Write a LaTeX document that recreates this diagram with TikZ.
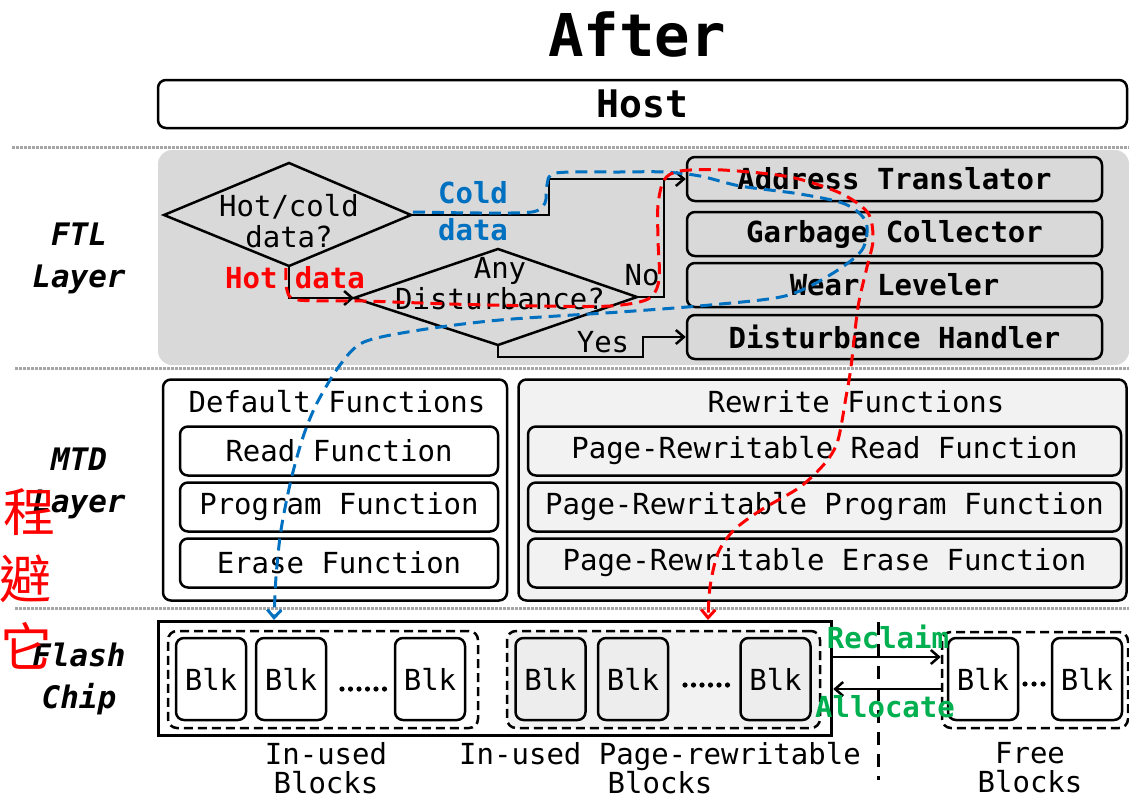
\documentclass[tikz,border=0pt]{standalone}
\usepackage{fontspec}
\setmainfont{DejaVu Sans}
\setmonofont{DejaVu Sans Mono}
\newfontfamily\cjkfont{Noto Sans CJK TC}
\usetikzlibrary{arrows.meta}

\definecolor{ftlgrey}{HTML}{D9D9D9}
\definecolor{lightgrey}{HTML}{F2F2F2}
\definecolor{blkgrey}{HTML}{EDEDED}
\definecolor{sepgrey}{HTML}{A6A6A6}
\definecolor{coldblue}{HTML}{0070C0}
\definecolor{hotred}{HTML}{FF0000}
\definecolor{allocgreen}{HTML}{00B050}

\newcommand\txtsize{\fontsize{29}{31}\selectfont}

\begin{document}
\begin{tikzpicture}[x=1pt,y=-1pt,
    box/.style={draw, line width=2.5pt, rounded corners=8pt, inner sep=0pt, font=\ttfamily\txtsize},
    ftlbox/.style={box, minimum width=415pt, minimum height=44pt, font=\ttfamily\bfseries\txtsize},
    fnbox/.style={box, minimum height=49pt},
    blk/.style={box, minimum width=70pt, minimum height=82pt},
    grp/.style={draw, line width=2.5pt, dash pattern=on 9pt off 5pt, rounded corners=9pt, inner sep=0pt},
    txt/.style={font=\ttfamily\txtsize, inner sep=0pt},
    boldtxt/.style={font=\ttfamily\bfseries\fontsize{29}{37}\selectfont, inner sep=0pt, align=center},
    layer/.style={font=\ttfamily\bfseries\itshape\fontsize{31}{42}\selectfont, align=center, inner sep=0pt},
    cjk/.style={font=\cjkfont\fontsize{52}{52}\selectfont, text=hotred, inner sep=0pt},
    sep/.style={draw=sepgrey, line width=3pt, dash pattern=on 3pt off 1pt},
    dia/.style={line width=2.5pt, line join=miter},
    flow/.style={line width=2.5pt, -{Straight Barb[length=8pt,width=14pt]}},
    coldpath/.style={draw=coldblue, line width=3pt, dash pattern=on 12pt off 7pt, -{Straight Barb[length=8pt,width=14pt]}},
    hotpath/.style={draw=hotred, line width=3pt, dash pattern=on 12pt off 7pt, -{Straight Barb[length=8pt,width=14pt]}}
]
\useasboundingbox (0,0) rectangle (1129,800);

% title and host
\node[font=\ttfamily\bfseries\fontsize{59}{59}\selectfont] (title) at (637,35) {After};
\node[box, font=\ttfamily\bfseries\fontsize{38}{38}\selectfont, minimum width=969pt, minimum height=48pt] (host) at (642.5,104) {Host};

% layer separators
\draw[sep] (12,147) -- (1129,147);
\draw[sep] (15,368) -- (1129,368);
\draw[sep] (15,608) -- (1129,608);

% FTL layer
\node[fill=ftlgrey, rounded corners=14pt, minimum width=971pt, minimum height=215pt, inner sep=0pt] (ftl) at (643.5,257.5) {};

\node[ftlbox] (addr) at (894.5,179) {Address Translator};
\node[ftlbox] (gc) at (894.5,234) {Garbage Collector};
\node[ftlbox] (wl) at (894.5,285) {Wear Leveler};
\node[ftlbox] (dh) at (894.5,337) {Disturbance Handler};

\coordinate (hcW) at (164,215);
\coordinate (hcN) at (289,163);
\coordinate (hcE) at (411,215);
\coordinate (hcS) at (289,266);
\draw[dia] (hcW) -- (hcN) -- (hcE) -- (hcS) -- cycle;
\node[txt, align=center] (hcq) at (289,221) {Hot/cold\\data?};

\coordinate (adW) at (354,298);
\coordinate (adN) at (498,249);
\coordinate (adE) at (637,297);
\coordinate (adS) at (498,345);
\draw[dia] (adW) -- (adN) -- (adE) -- (adS) -- cycle;
\node[txt, align=center] (adq) at (500,284) {Any\\Disturbance?};

\coordinate (noJ) at (664,179);
\coordinate (yesJ) at (643,337);
\draw[flow] (hcE) -- (549,215) |- (addr.west);
\draw[flow] (hcS) |- (adW);
\draw[line width=2.5pt] (adE) -| (noJ);
\draw[flow] (adS) -- ++(0,12) -| (yesJ) -- (dh.west);

\node[boldtxt, text=coldblue] (coldL) at (473,211) {Cold\\data};
\node[boldtxt, text=hotred] (hotL) at (295,278) {Hot data};
\node[txt] (noL) at (642,275) {No};
\node[txt] (yesL) at (603,342) {Yes};

% MTD layer
\node[box, minimum width=344pt, minimum height=221pt] (dflt) at (335,490) {};
\node[txt] (dfltT) at (337,402) {Default Functions};
\node[fnbox, minimum width=318pt] (rdF) at (339,451) {Read Function};
\node[fnbox, minimum width=318pt] (pgF) at (339,507) {Program Function};
\node[fnbox, minimum width=318pt] (erF) at (339,563) {Erase Function};

\node[box, fill=lightgrey, minimum width=608pt, minimum height=221pt] (rw) at (822.5,490) {};
\node[txt] (rwT) at (856,402) {Rewrite Functions};
\node[fnbox, fill=lightgrey, minimum width=593pt] (prRd) at (824.5,451) {Page-Rewritable Read Function};
\node[fnbox, fill=lightgrey, minimum width=593pt] (prPg) at (824.5,507) {Page-Rewritable Program Function};
\node[fnbox, fill=lightgrey, minimum width=593pt] (prEr) at (824.5,563) {Page-Rewritable Erase Function};

% flash chip
\node[draw, line width=3.5pt, minimum width=673pt, minimum height=114pt, inner sep=0pt] (chip) at (495,678.5) {};
\node[grp, minimum width=310pt, minimum height=97pt] (usedG) at (323,679.5) {};
\node[grp, fill=lightgrey, minimum width=313pt, minimum height=97pt] (prG) at (663.5,679.5) {};
\node[grp, minimum width=186pt, minimum height=96pt] (freeG) at (1035,680) {};

\foreach \x/\n in {211/b1, 291/b2, 430/b3}
    \node[blk] (\n) at (\x,679) {Blk};
\foreach \x/\n in {550.5/b4, 633/b5, 775.5/b6}
    \node[blk, fill=blkgrey] (\n) at (\x,679) {Blk};
\foreach \x/\n in {983/f1, 1087/f2}
    \node[blk] (\n) at (\x,679) {Blk};

\foreach \i in {0,...,5}
    \fill (342+\i*8.5,689) circle (2.6pt);
\foreach \i in {0,...,5}
    \fill (685+\i*8.5,685) circle (2.6pt);
\foreach \i in {0,1,2}
    \fill (1025+\i*9,684) circle (2.6pt);

\coordinate (rc) at (0,657);
\coordinate (al) at (0,689);
\draw[flow] (chip.east |- rc) -- (freeG.west |- rc);
\draw[flow] (freeG.west |- al) -- (chip.east |- al);
\draw[line width=3pt, dash pattern=on 13pt off 9pt] (878,622) -- (878,780);

\node[boldtxt, text=allocgreen] (rcL) at (888,637) {Reclaim};
\node[boldtxt, text=allocgreen] (alL) at (885,707) {Allocate};

\node[txt, align=center, font=\ttfamily\fontsize{29}{29}\selectfont] (usedL) at (326,768) {In-used\\Blocks};
\node[txt, align=center, font=\ttfamily\fontsize{29}{29}\selectfont] (prL) at (660,768) {In-used Page-rewritable\\Blocks};
\node[txt, align=center, font=\ttfamily\fontsize{29}{29}\selectfont] (freeL) at (1030,768) {Free\\Blocks};

% layer names
\node[layer] (ftlL) at (79,258) {FTL\\Layer};
\node[layer] (mtdL) at (79,483) {MTD\\Layer};
\node[layer] (chipL) at (79,679) {Flash\\Chip};

\node[cjk] (c1) at (29,512) {程};
\node[cjk] (c2) at (25,579) {避};
\node[cjk] (c3) at (27,646) {它};

% data paths
\coordinate (blueEnd) at (274,620);
\coordinate (redEnd) at (708,620);
\draw[coldpath] plot[smooth, tension=0.5] coordinates {(413,212) (480,213) (532,212) (545,203) (547,185) (556,173) (620,172) (664,172) (700,176) (740,186) (800,194) (845,204) (866,222) (862,250) (830,275) (785,296) (710,305) (620,312) (500,320) (420,330) (364,342) (340,365) (317,403) (303,437) (291,480) (281,530) (276,577) (blueEnd)};
\draw[hotpath] plot[smooth, tension=0.5] coordinates {(286,268) (287,290) (298,300) (364,301) (450,304) (540,306) (610,306) (648,299) (659,280) (658,240) (658,205) (664,180) (680,171) (723,170) (790,177) (840,193) (868,213) (873,240) (867,267) (858,307) (851,367) (846,397) (838,440) (826,462) (800,487) (761,510) (734,530) (718,553) (710,587) (redEnd)};

\end{tikzpicture}
\end{document}
